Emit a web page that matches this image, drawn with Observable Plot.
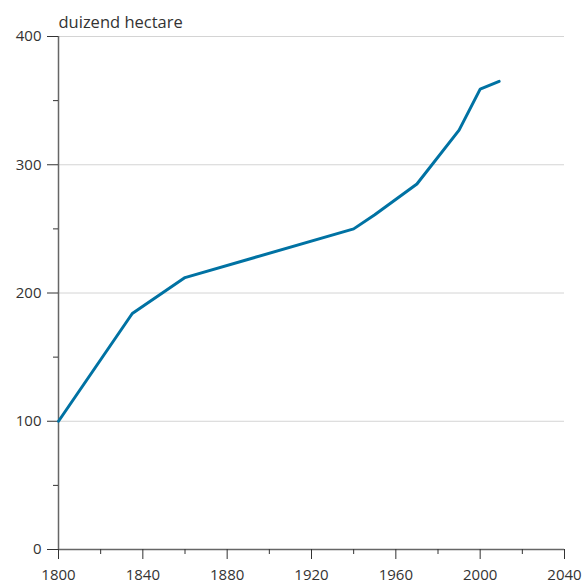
<!DOCTYPE html>
<html>
<head>
<meta charset="utf-8">
<script src="https://cdn.jsdelivr.net/npm/d3@7"></script>
<script src="https://cdn.jsdelivr.net/npm/@observablehq/plot@0.6"></script>
<style>
  html, body { margin: 0; padding: 0; background: #fff; }
  #chart { width: 585px; height: 585px; }
</style>
</head>
<body>
<div id="chart"></div>
<script>
const years = [1800, 1835, 1860, 1940, 1950, 1970, 1990, 2000, 2009];
const values = [100, 184, 212, 250, 261, 285, 327, 359, 365];
const xMajor = [1800, 1840, 1880, 1920, 1960, 2000, 2040];
const xMinor = [1820, 1860, 1900, 1940, 1980, 2020];
const yMajor = [0, 100, 200, 300, 400];
const yMinor = [50, 150, 250, 350];
const yGrid = [100, 200, 300, 400];
const unitLabel = "duizend hectare";

const data = years.map((y, i) => ({year: y, value: values[i]}));
const font = "'Open Sans', 'Noto Sans', sans-serif";
const textColor = "#333";
const axisColor = "#666";

const plot = Plot.plot({
  width: 585,
  height: 585,
  marginLeft: 58,
  marginRight: 21,
  marginTop: 36,
  marginBottom: 36,
  style: {fontFamily: font, color: textColor, background: "#fff"},
  x: {domain: [1800, 2040]},
  y: {domain: [0, 400]},
  marks: [
    Plot.gridY(yGrid, {stroke: "#d4d4d4", strokeOpacity: 1, strokeWidth: 1}),
    Plot.ruleY([0], {stroke: axisColor, strokeWidth: 1.5}),
    Plot.ruleX([1800], {y1: 0, y2: 400, stroke: axisColor, strokeWidth: 1.5}),
    Plot.axisY(yMajor, {tickSize: 11, tickPadding: 6, fontSize: 15, stroke: textColor, fill: textColor, label: null, tickFormat: d => String(d)}),
    Plot.axisY(yMinor, {tickSize: 5, stroke: textColor, text: null, label: null}),
    Plot.axisX(xMajor, {tickSize: 10, tickPadding: 10, fontSize: 15, stroke: textColor, fill: textColor, label: null, tickFormat: d => String(d)}),
    Plot.axisX(xMinor, {tickSize: 5, stroke: textColor, text: null, label: null}),
    Plot.line(data, {x: "year", y: "value", stroke: "#0072a3", strokeWidth: 3, strokeLinejoin: "miter"}),
    Plot.text([unitLabel], {frameAnchor: "top-left", lineAnchor: "bottom", dy: -9, textAnchor: "start", fontSize: 16.5, fill: textColor})
  ]
});
document.getElementById("chart").appendChild(plot);
</script>
</body>
</html>
